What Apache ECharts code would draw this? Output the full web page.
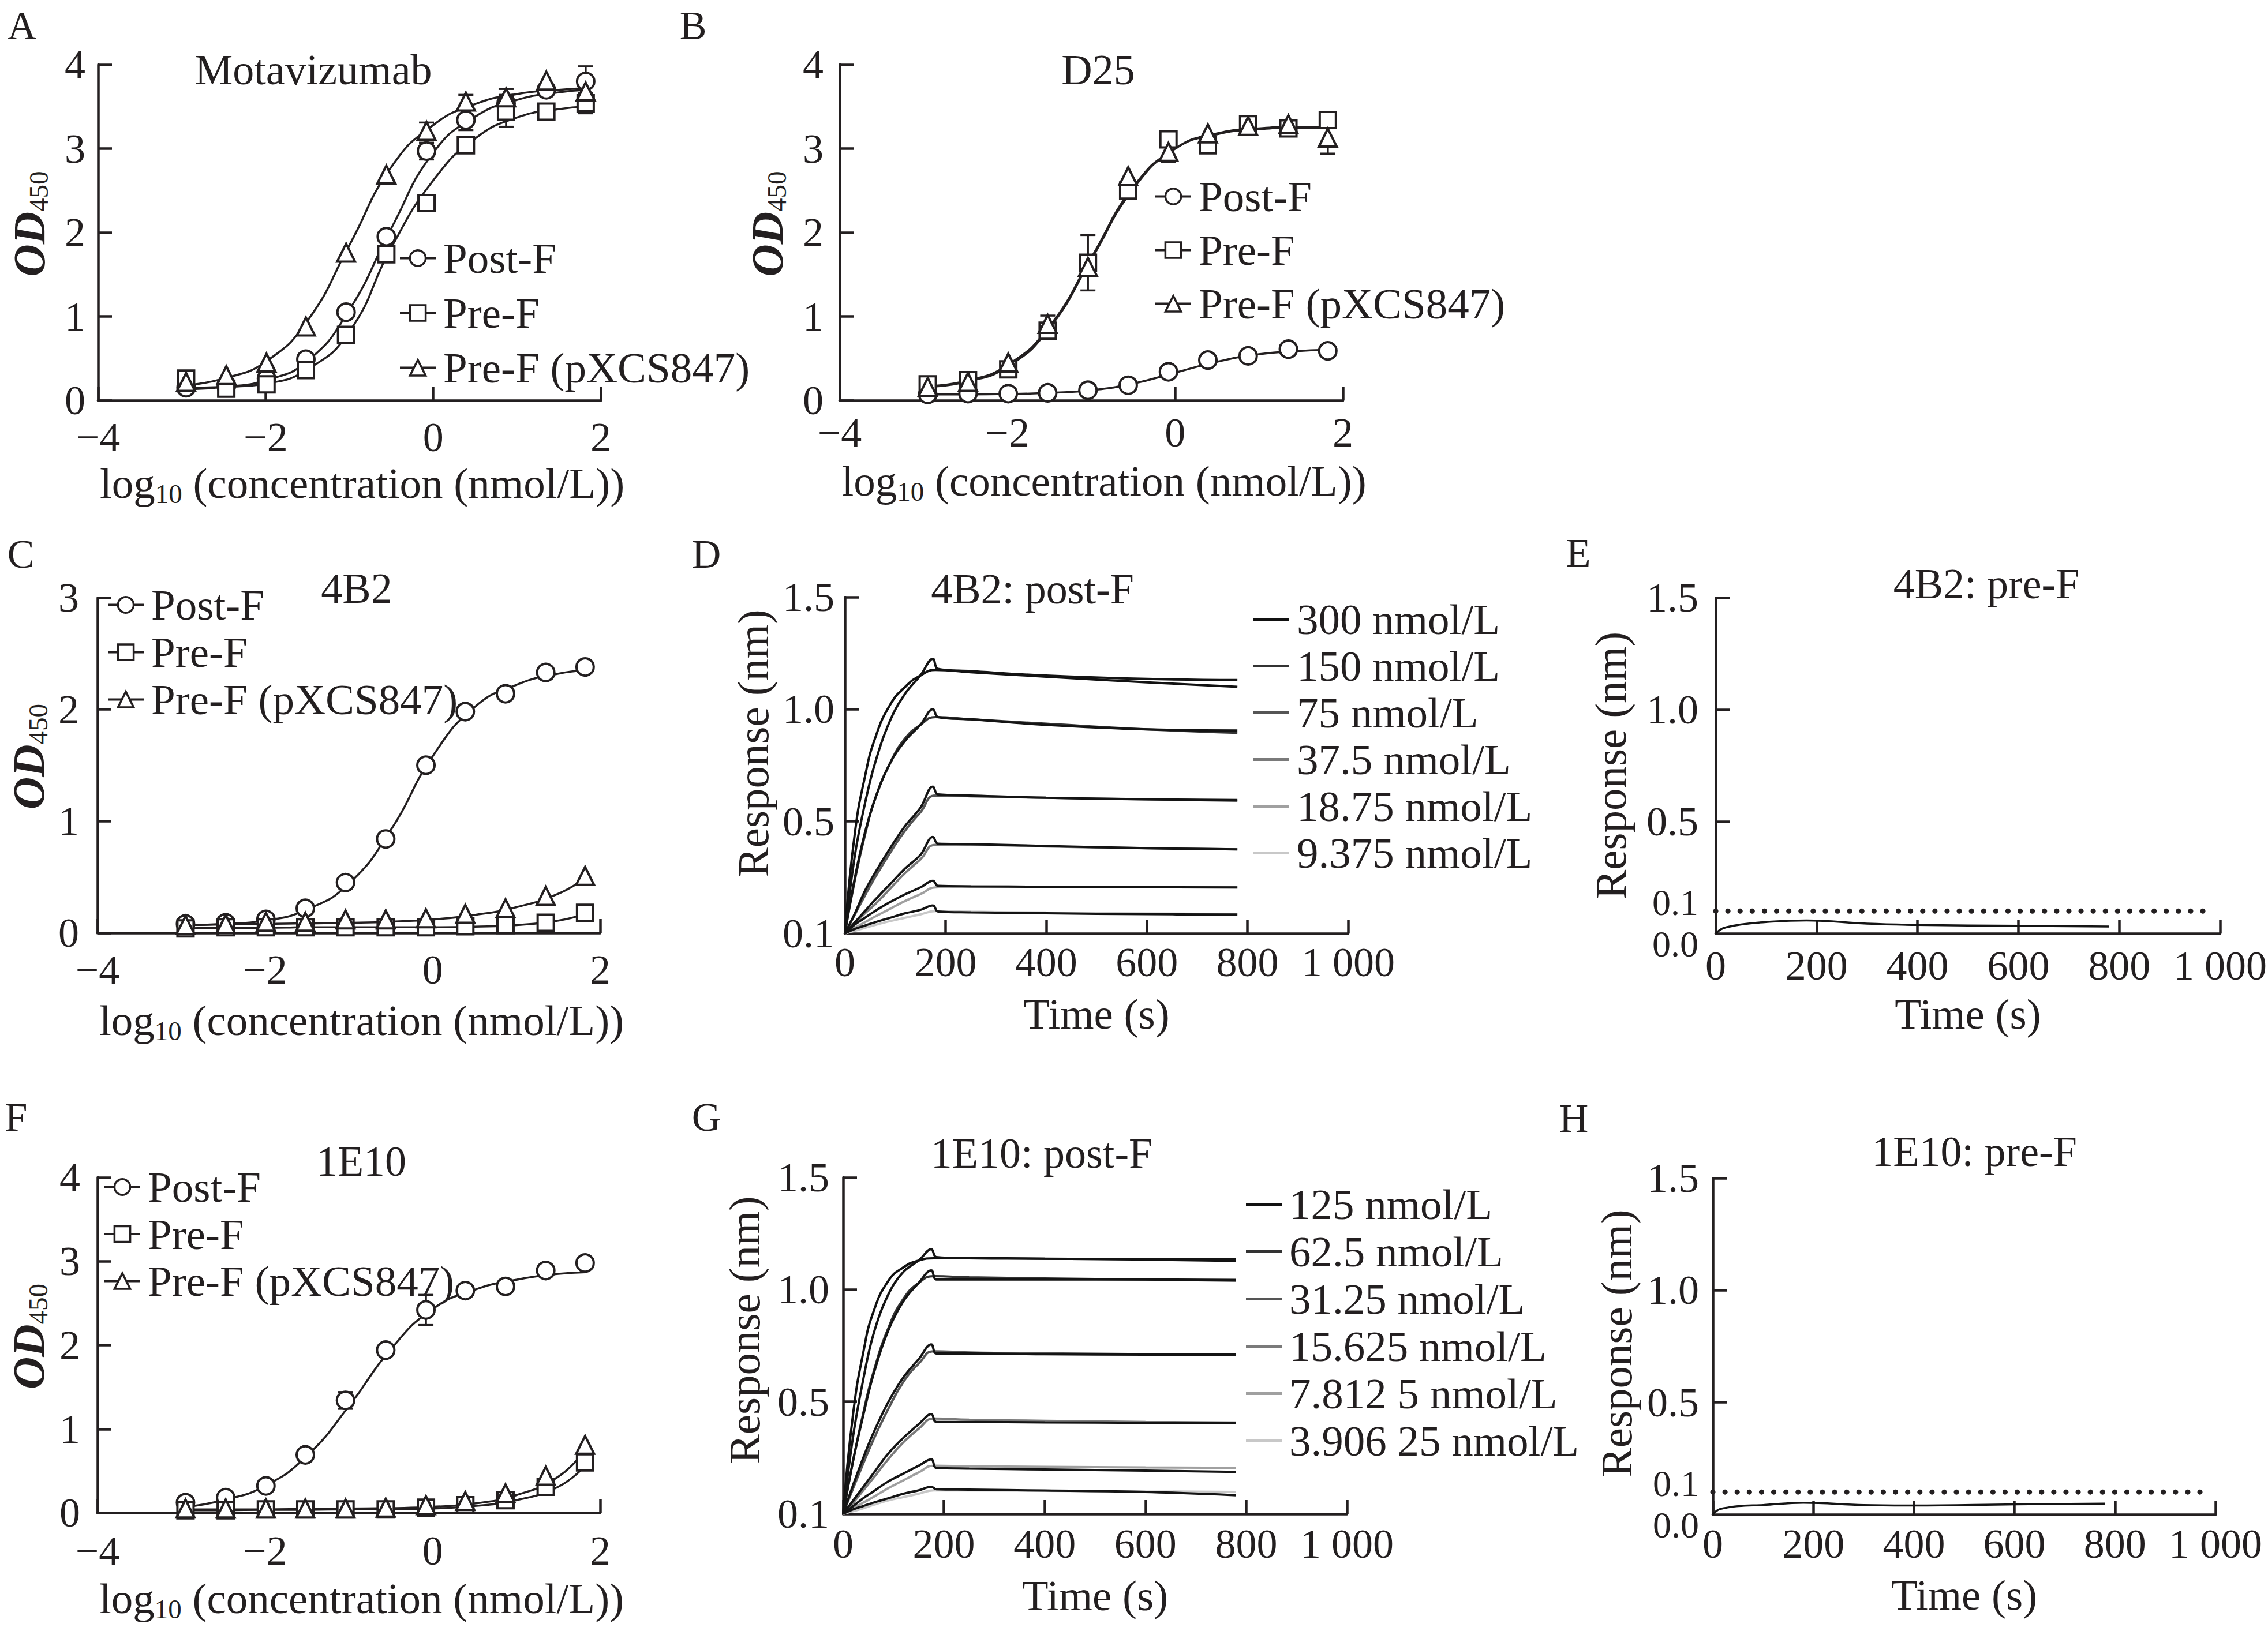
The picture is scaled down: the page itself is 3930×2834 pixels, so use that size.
<!DOCTYPE html>
<html lang="en">
<head>
<meta charset="utf-8">
<title>Antibody binding to RSV F proteins</title>
<script src="https://cdn.jsdelivr.net/npm/echarts@6.0.0/dist/echarts.min.js"></script>
<style>
  html, body { margin: 0; padding: 0; background: #ffffff; }
  #fig { width: 3930px; height: 2834px; }
</style>
</head>
<body>
<div id="fig"></div>
<script>
// ---------- ELISA data (x = log10 concentration, nmol/L) ----------
var logConc = [-2.95, -2.47, -1.99, -1.52, -1.04, -0.56, -0.08, 0.39, 0.87, 1.35, 1.82];
var fitX    = [-2.95, -2.5, -2.0, -1.5, -1.0, -0.5, 0.0, 0.5, 1.0, 1.5, 1.82];
var groupNames = ['Post-F', 'Pre-F', 'Pre-F (pXCS847)'];

// A: Motavizumab
var motaPost    = [0.15, 0.17, 0.26, 0.49, 1.05, 1.95, 2.97, 3.34, 3.54, 3.70, 3.80];
var motaPostSd  = [0, 0, 0, 0, 0, 0, 0.10, 0.12, 0.10, 0, 0.18];
var motaPostFit = [0.13, 0.16, 0.24, 0.47, 1.08, 2.05, 2.95, 3.38, 3.58, 3.67, 3.70];
var motaPre     = [0.26, 0.14, 0.19, 0.36, 0.78, 1.74, 2.35, 3.04, 3.44, 3.44, 3.54];
var motaPreSd   = [0, 0, 0.06, 0, 0, 0, 0, 0, 0.18, 0.05, 0.12];
var motaPreFit  = [0.15, 0.16, 0.20, 0.37, 0.82, 1.82, 2.62, 3.12, 3.37, 3.47, 3.50];
var motaPx      = [0.22, 0.30, 0.45, 0.88, 1.76, 2.69, 3.21, 3.56, 3.61, 3.81, 3.68];
var motaPxSd    = [0, 0, 0, 0, 0, 0, 0.10, 0.08, 0.10, 0, 0];
var motaPxFit   = [0.18, 0.26, 0.46, 0.95, 1.85, 2.78, 3.28, 3.53, 3.65, 3.70, 3.72];

// B: D25
var d25Post    = [0.07, 0.08, 0.08, 0.09, 0.12, 0.18, 0.34, 0.48, 0.53, 0.61, 0.59];
var d25PostSd  = [0, 0, 0, 0, 0, 0, 0, 0, 0, 0, 0];
var d25PostFit = [0.07, 0.07, 0.075, 0.09, 0.12, 0.20, 0.33, 0.46, 0.55, 0.59, 0.60];
var d25Pre     = [0.19, 0.24, 0.37, 0.83, 1.64, 2.50, 3.11, 3.04, 3.29, 3.24, 3.34];
var d25PreSd   = [0, 0, 0, 0.05, 0.33, 0, 0, 0.05, 0, 0.05, 0];
var d25PreFit  = [0.16, 0.22, 0.40, 0.86, 1.68, 2.52, 3.00, 3.18, 3.24, 3.26, 3.26];
var d25Px      = [0.16, 0.22, 0.45, 0.91, 1.59, 2.67, 2.96, 3.18, 3.27, 3.29, 3.13];
var d25PxSd    = [0, 0, 0, 0.10, 0, 0, 0.12, 0, 0, 0.03, 0.19];
var d25PxFit   = [0.17, 0.23, 0.42, 0.88, 1.70, 2.54, 3.00, 3.17, 3.23, 3.25, 3.25];

// C: 4B2
var c4b2Post    = [0.08, 0.09, 0.12, 0.22, 0.45, 0.84, 1.50, 1.98, 2.14, 2.33, 2.38];
var c4b2PostFit = [0.07, 0.08, 0.11, 0.21, 0.44, 0.92, 1.58, 2.02, 2.22, 2.32, 2.35];
var c4b2Pre     = [0.04, 0.05, 0.05, 0.05, 0.05, 0.05, 0.05, 0.06, 0.07, 0.09, 0.18];
var c4b2PreFit  = [0.04, 0.045, 0.045, 0.05, 0.05, 0.05, 0.05, 0.055, 0.07, 0.11, 0.17];
var c4b2Px      = [0.07, 0.08, 0.10, 0.10, 0.12, 0.12, 0.13, 0.17, 0.22, 0.33, 0.51];
var c4b2PxFit   = [0.07, 0.075, 0.08, 0.085, 0.09, 0.10, 0.12, 0.16, 0.23, 0.35, 0.49];
var noSd        = [0, 0, 0, 0, 0, 0, 0, 0, 0, 0, 0];

// F: 1E10
var f1e10Post    = [0.12, 0.18, 0.32, 0.69, 1.34, 1.94, 2.42, 2.65, 2.70, 2.89, 2.98];
var f1e10PostSd  = [0, 0, 0, 0, 0.10, 0, 0.18, 0, 0, 0, 0];
var f1e10PostFit = [0.07, 0.15, 0.32, 0.68, 1.27, 1.95, 2.43, 2.66, 2.78, 2.85, 2.87];
var f1e10Pre     = [0.03, 0.03, 0.04, 0.04, 0.04, 0.04, 0.06, 0.09, 0.15, 0.31, 0.60];
var f1e10PreFit  = [0.03, 0.03, 0.035, 0.035, 0.04, 0.04, 0.05, 0.08, 0.15, 0.31, 0.56];
var f1e10Px      = [0.05, 0.05, 0.05, 0.05, 0.05, 0.06, 0.09, 0.14, 0.23, 0.44, 0.81];
var f1e10PxFit   = [0.04, 0.04, 0.04, 0.045, 0.05, 0.055, 0.07, 0.11, 0.21, 0.43, 0.75];

// ---------- BLI kinetics (time in s, response in nm) ----------
var rawTime = [0, 20, 40, 60, 90, 120, 150, 175, 185, 250, 400, 600, 780];
var fitTime = [0, 20, 40, 60, 90, 120, 150, 180, 250, 400, 600, 780];

// D: 4B2 vs post-F
var dConc = ['300 nmol/L', '150 nmol/L', '75 nmol/L', '37.5 nmol/L', '18.75 nmol/L', '9.375 nmol/L'];
var d300Raw = [0, 0.35, 0.58, 0.76, 0.95, 1.07, 1.15, 1.225, 1.18, 1.17, 1.15, 1.135, 1.13];
var d300Fit = [0, 0.45, 0.70, 0.87, 1.02, 1.10, 1.15, 1.175, 1.165, 1.145, 1.12, 1.10];
var d150Raw = [0, 0.25, 0.45, 0.60, 0.76, 0.86, 0.93, 1.00, 0.965, 0.955, 0.93, 0.91, 0.905];
var d150Fit = [0, 0.24, 0.44, 0.60, 0.76, 0.87, 0.93, 0.965, 0.955, 0.935, 0.91, 0.895];
var d75Raw  = [0, 0.09, 0.19, 0.27, 0.38, 0.48, 0.56, 0.655, 0.62, 0.615, 0.605, 0.598, 0.595];
var d75Fit  = [0, 0.085, 0.17, 0.25, 0.36, 0.46, 0.54, 0.615, 0.612, 0.605, 0.598, 0.592];
var d37Raw  = [0, 0.05, 0.10, 0.15, 0.22, 0.29, 0.35, 0.43, 0.40, 0.398, 0.39, 0.38, 0.375];
var d37Fit  = [0, 0.045, 0.09, 0.13, 0.20, 0.27, 0.33, 0.395, 0.395, 0.388, 0.38, 0.375];
var d18Raw  = [0, 0.04, 0.07, 0.10, 0.14, 0.175, 0.205, 0.235, 0.212, 0.21, 0.208, 0.206, 0.205];
var d18Fit  = [0, 0.025, 0.05, 0.075, 0.11, 0.145, 0.175, 0.205, 0.21, 0.208, 0.206, 0.205];
var d9Raw   = [0, 0.02, 0.035, 0.05, 0.07, 0.09, 0.105, 0.125, 0.098, 0.094, 0.09, 0.086, 0.084];
var d9Fit   = [0, 0.012, 0.025, 0.038, 0.055, 0.07, 0.085, 0.10, 0.097, 0.093, 0.089, 0.086];

// G: 1E10 vs post-F
var gConc = ['125 nmol/L', '62.5 nmol/L', '31.25 nmol/L', '15.625 nmol/L', '7.812 5 nmol/L', '3.906 25 nmol/L'];
var g125Raw = [0, 0.35, 0.60, 0.80, 0.98, 1.08, 1.13, 1.18, 1.145, 1.14, 1.138, 1.136, 1.135];
var g125Fit = [0, 0.45, 0.72, 0.90, 1.04, 1.10, 1.13, 1.14, 1.14, 1.138, 1.134, 1.128];
var g62Raw  = [0, 0.24, 0.44, 0.62, 0.82, 0.95, 1.03, 1.086, 1.045, 1.045, 1.045, 1.045, 1.043];
var g62Fit  = [0, 0.24, 0.45, 0.63, 0.83, 0.96, 1.03, 1.06, 1.055, 1.05, 1.045, 1.04];
var g31Raw  = [0, 0.13, 0.25, 0.36, 0.50, 0.61, 0.69, 0.756, 0.715, 0.715, 0.712, 0.71, 0.71];
var g31Fit  = [0, 0.115, 0.225, 0.33, 0.47, 0.59, 0.67, 0.725, 0.72, 0.716, 0.712, 0.71];
var g15Raw  = [0, 0.06, 0.12, 0.18, 0.27, 0.34, 0.40, 0.445, 0.41, 0.41, 0.408, 0.406, 0.405];
var g15Fit  = [0, 0.05, 0.105, 0.16, 0.245, 0.32, 0.38, 0.425, 0.42, 0.415, 0.41, 0.407];
var g7Raw   = [0, 0.035, 0.07, 0.10, 0.145, 0.18, 0.215, 0.243, 0.205, 0.202, 0.198, 0.193, 0.187];
var g7Fit   = [0, 0.025, 0.05, 0.075, 0.115, 0.15, 0.185, 0.215, 0.212, 0.21, 0.207, 0.205];
var g3Raw   = [0, 0.02, 0.035, 0.05, 0.07, 0.09, 0.105, 0.12, 0.11, 0.108, 0.104, 0.098, 0.083];
var g3Fit   = [0, 0.012, 0.025, 0.04, 0.06, 0.075, 0.09, 0.105, 0.105, 0.103, 0.10, 0.098];

// E / H: binding to pre-F (below the 0.1 nm cut-off)
var preTime  = [0, 10, 20, 50, 100, 180, 300, 400, 600, 780];
var e4b2Pre  = [0, 0.018, 0.027, 0.040, 0.051, 0.058, 0.044, 0.038, 0.034, 0.031];
var h1e10Pre = [0, 0.020, 0.027, 0.037, 0.042, 0.052, 0.042, 0.040, 0.045, 0.048];
var cutoff = 0.1;
var cutoffTime = [0, 980];

// tick labels
var kinYTicks  = [0, 0.5, 1.0, 1.5];
var kinYLabels = ['0.1', '0.5', '1.0', '1.5'];
var preYTicks  = [0, 0.5, 1.0, 1.5];
var preYLabels = ['0.0', '0.5', '1.0', '1.5'];
var cutoffLabel = '0.1';

var titles = ['Motavizumab', 'D25', '4B2', '4B2: post-F', '4B2: pre-F', '1E10', '1E10: post-F', '1E10: pre-F'];
var letters = ['A', 'B', 'C', 'D', 'E', 'F', 'G', 'H'];

// ---------- styling / layout ----------
var ink = '#231f20';
var serif = '"Liberation Serif", "Times New Roman", Times, serif';
var fitGreys = ['#111111', '#333333', '#555555', '#7a7a7a', '#a0a0a0', '#c8c8c8'];
var markerShape = ['circle', 'rect', 'triangle'];
var markerSize = [30, 28, 31];

var titlePos  = [[543, 121], [1903, 121], [618, 1020], [1789, 1021], [3442, 1012], [626, 2013], [1805, 1999], [3421, 1996]];
var letterPos = [[38, 44], [1201, 44], [36, 960], [1224, 960], [2735, 958], [28, 1936], [1224, 1936], [2727, 1938]];

var elisaLayout = [
  {grid: [170, 112, 871, 582], yMax: 4, legend: [691, 410, 20], xGap: 106, yGap: 85, xMargin: 28, yMargin: 22},
  {grid: [1455, 112, 872, 582], yMax: 4, legend: [2000, 303, 18], xGap: 102, yGap: 91, xMargin: 20, yMargin: 28},
  {grid: [169, 1036, 871, 581], yMax: 3, legend: [185, 1011, 7], xGap: 114, yGap: 85, xMargin: 28, yMargin: 32},
  {grid: [169, 2041, 871, 581], yMax: 4, legend: [179, 2020, 6.5], xGap: 111, yGap: 85, xMargin: 30, yMargin: 30}
];
var elisaData = [
  [[motaPost, motaPostSd, motaPostFit], [motaPre, motaPreSd, motaPreFit], [motaPx, motaPxSd, motaPxFit]],
  [[d25Post, d25PostSd, d25PostFit], [d25Pre, d25PreSd, d25PreFit], [d25Px, d25PxSd, d25PxFit]],
  [[c4b2Post, noSd, c4b2PostFit], [c4b2Pre, noSd, c4b2PreFit], [c4b2Px, noSd, c4b2PxFit]],
  [[f1e10Post, f1e10PostSd, f1e10PostFit], [f1e10Pre, noSd, f1e10PreFit], [f1e10Px, noSd, f1e10PxFit]]
];

var kinLayout = [
  {grid: [1464, 1035, 872, 583], legend: [2172, 1036, 6], xGap: 98, yGap: 118, yShift: 76, xMargin: 14, yMargin: 18},
  {grid: [1461, 2041, 873, 583], legend: [2159, 2050, 7], xGap: 100, yGap: 130, yShift: 54, xMargin: 16, yMargin: 24}
];
var kinNames = [dConc, gConc];
var kinRaw = [[d300Raw, d150Raw, d75Raw, d37Raw, d18Raw, d9Raw], [g125Raw, g62Raw, g31Raw, g15Raw, g7Raw, g3Raw]];
var kinFit = [[d300Fit, d150Fit, d75Fit, d37Fit, d18Fit, d9Fit], [g125Fit, g62Fit, g31Fit, g15Fit, g7Fit, g3Fit]];

var preLayout = [
  {grid: [2973, 1036, 874, 582], xGap: 98, yGap: 141, yShift: 0, xMargin: 20, yMargin: 30},
  {grid: [2968, 2042, 871, 583], xGap: 98, yGap: 126, yShift: 10, xMargin: 15, yMargin: 24}
];
var preData = [e4b2Pre, h1e10Pre];

// ---------- helpers ----------
function pairs(xs, ys) {
  return xs.map(function (x, k) { return [x, ys[k]]; });
}

function errData(xs, ys, sd) {
  var out = [];
  for (var k = 0; k < xs.length; k++) {
    if (sd[k] > 0) out.push([xs[k], ys[k], sd[k]]);
  }
  return out;
}

function renderErr(params, api) {
  var x = api.value(0), y = api.value(1), e = api.value(2);
  var hi = api.coord([x, y + e]);
  var lo = api.coord([x, y - e]);
  var w = 13;
  var st = {stroke: ink, lineWidth: 3.5};
  return {
    type: 'group',
    children: [
      {type: 'line', shape: {x1: hi[0], y1: hi[1], x2: lo[0], y2: lo[1]}, style: st},
      {type: 'line', shape: {x1: hi[0] - w, y1: hi[1], x2: hi[0] + w, y2: hi[1]}, style: st},
      {type: 'line', shape: {x1: lo[0] - w, y1: lo[1], x2: lo[0] + w, y2: lo[1]}, style: st}
    ]
  };
}

function minusFmt(v) {
  return v < 0 ? '\u2212' + Math.abs(v) : String(v);
}

function timeFmt(v) {
  return v === 1000 ? '1 000' : String(v);
}

function baseAxis(gi) {
  return {
    gridIndex: gi,
    type: 'value',
    splitLine: {show: false},
    axisLine: {show: true, onZero: false, lineStyle: {color: ink, width: 4.5}},
    axisTick: {show: true, inside: true, length: 24, lineStyle: {color: ink, width: 4.5}},
    nameLocation: 'middle',
    nameMoveOverlap: false,
    nameTextStyle: {color: ink, fontFamily: serif, fontSize: 75, lineHeight: 82}
  };
}

function label(margin, extra) {
  return Object.assign({show: true, showMinLabel: true, showMaxLabel: true, color: ink,
    fontFamily: serif, fontSize: 72, margin: margin}, extra || {});
}

var grids = [], xAxes = [], yAxes = [], extraY = [], series = [], legends = [];

function addGrid(g) {
  grids.push({left: g[0], top: g[1], width: g[2], height: g[3], containLabel: false, outerBoundsMode: 'none'});
  return grids.length - 1;
}

var subRich = {
  m: {fontFamily: serif, fontSize: 75, color: ink, verticalAlign: 'top', lineHeight: 82},
  od: {fontFamily: serif, fontSize: 78, fontStyle: 'italic', fontWeight: 'bold', color: ink, verticalAlign: 'top', lineHeight: 74},
  s: {fontFamily: serif, fontSize: 47, color: ink, verticalAlign: 'top', lineHeight: 42, padding: [32, 0, 0, 0]}
};

var legendText = {color: ink, fontFamily: serif, fontSize: 75, lineHeight: 72, padding: [0, 0, 0, 8]};

// ---------- ELISA panels (A, B, C, F) ----------
elisaLayout.forEach(function (L, p) {
  var gi = addGrid(L.grid);
  var xa = baseAxis(gi);
  xa.min = -4; xa.max = 2; xa.interval = 2;
  xa.axisLabel = label(L.xMargin, {formatter: minusFmt});
  xa.name = '{m|log}{s|10}{m| (concentration (nmol/L))}';
  xa.nameGap = L.xGap;
  xa.nameTextStyle = Object.assign({}, xa.nameTextStyle, {rich: subRich, padding: [0, 0, 0, 44]});
  xAxes.push(xa);

  var ya = baseAxis(gi);
  ya.min = 0; ya.max = L.yMax; ya.interval = 1;
  ya.axisLabel = label(L.yMargin);
  ya.name = '{od|OD}{s|450}';
  ya.nameRotate = 90;
  ya.nameGap = L.yGap;
  ya.nameTextStyle = Object.assign({}, ya.nameTextStyle, {rich: subRich, lineHeight: 74, padding: [0, 0, 0, 30]});
  yAxes.push(ya);

  var groups = elisaData[p];
  // fitted curves first, so each legend takes its line + marker icon from them
  groups.forEach(function (g, k) {
    series.push({
      type: 'line', name: groupNames[k], xAxisIndex: gi, yAxisIndex: gi,
      data: pairs(fitX, g[2]), smooth: 0.5,
      symbol: markerShape[k], symbolSize: 28, showSymbol: false,
      lineStyle: {color: ink, width: 3.5}, itemStyle: {color: ink},
      z: 2, silent: true
    });
  });
  groups.forEach(function (g, k) {
    var ed = errData(logConc, g[0], g[1]);
    if (!ed.length) return;
    series.push({
      type: 'custom', name: groupNames[k], xAxisIndex: gi, yAxisIndex: gi,
      data: ed, encode: {x: 0, y: 1}, renderItem: renderErr, z: 3, silent: true
    });
  });
  groups.forEach(function (g, k) {
    series.push({
      type: 'scatter', name: groupNames[k], xAxisIndex: gi, yAxisIndex: gi,
      data: pairs(logConc, g[0]), symbol: markerShape[k], symbolSize: markerSize[k],
      itemStyle: {color: '#ffffff', borderColor: ink, borderWidth: 4, opacity: 1},
      z: 4, silent: true
    });
  });

  legends.push({
    orient: 'vertical', left: L.legend[0], top: L.legend[1], itemGap: L.legend[2],
    padding: 0, itemWidth: 62, itemHeight: 34, selectedMode: false,
    data: groupNames.slice(),
    itemStyle: {color: '#ffffff', borderColor: ink, borderWidth: 3.5},
    lineStyle: {color: ink, width: 4},
    textStyle: legendText
  });
});

// ---------- kinetics vs post-F (D, G) ----------
kinLayout.forEach(function (L, p) {
  var gi = addGrid(L.grid);
  var xa = baseAxis(gi);
  xa.min = 0; xa.max = 1000; xa.interval = 200;
  xa.axisLabel = label(L.xMargin, {formatter: timeFmt});
  xa.name = 'Time (s)';
  xa.nameGap = L.xGap;
  xAxes.push(xa);

  var ya = baseAxis(gi);
  ya.min = 0; ya.max = 1.5;
  ya.axisTick = Object.assign({}, ya.axisTick, {customValues: kinYTicks.slice(1)});
  ya.axisLabel = label(L.yMargin, {
    customValues: kinYTicks,
    formatter: function (v) { return kinYLabels[kinYTicks.indexOf(v)]; }
  });
  ya.name = 'Response (nm)';
  ya.nameRotate = 90;
  ya.nameGap = L.yGap;
  ya.nameTextStyle = Object.assign({}, ya.nameTextStyle, {fontSize: 77, padding: [0, 0, 0, L.yShift]});
  yAxes.push(ya);

  var names = kinNames[p];
  kinFit[p].forEach(function (vals, k) {
    series.push({
      type: 'line', name: names[k], xAxisIndex: gi, yAxisIndex: gi,
      data: pairs(fitTime, vals), smooth: 0.5, symbol: 'none',
      lineStyle: {color: fitGreys[k], width: 4}, itemStyle: {color: fitGreys[k]},
      z: 2, silent: true
    });
  });
  kinRaw[p].forEach(function (vals, k) {
    series.push({
      type: 'line', name: names[k], xAxisIndex: gi, yAxisIndex: gi,
      data: pairs(rawTime, vals), smooth: 0.4, symbol: 'none',
      lineStyle: {color: '#141414', width: 4}, itemStyle: {color: '#141414'},
      z: 3, silent: true
    });
  });

  legends.push({
    orient: 'vertical', left: L.legend[0], top: L.legend[1], itemGap: L.legend[2],
    padding: 0, itemWidth: 62, itemHeight: 5, icon: 'rect', selectedMode: false,
    data: names.slice(),
    textStyle: legendText
  });
});

// ---------- binding to pre-F (E, H) ----------
preLayout.forEach(function (L, p) {
  var gi = addGrid(L.grid);
  var xa = baseAxis(gi);
  xa.min = 0; xa.max = 1000; xa.interval = 200;
  xa.axisLabel = label(L.xMargin, {formatter: timeFmt});
  xa.name = 'Time (s)';
  xa.nameGap = L.xGap;
  xAxes.push(xa);

  var ya = baseAxis(gi);
  ya.min = 0; ya.max = 1.5;
  ya.axisTick = Object.assign({}, ya.axisTick, {customValues: preYTicks.slice(1)});
  ya.axisLabel = label(L.yMargin, {
    customValues: preYTicks,
    formatter: function (v) {
      var t = preYLabels[preYTicks.indexOf(v)];
      return v === 0 ? '{lo|' + t + '}' : t;
    },
    rich: {lo: {fontFamily: serif, fontSize: 64, color: ink, lineHeight: 20, padding: [36, 0, 0, 0]}}
  });
  ya.name = 'Response (nm)';
  ya.nameRotate = 90;
  ya.nameGap = L.yGap;
  ya.nameTextStyle = Object.assign({}, ya.nameTextStyle, {fontSize: 77, padding: [0, 0, 0, L.yShift]});
  yAxes.push(ya);

  // label-only axis on the same grid, for the 0.1 nm cut-off value
  extraY.push({
    gridIndex: gi, type: 'value', min: 0, max: 1.5, position: 'left',
    axisLine: {show: false}, axisTick: {show: false}, splitLine: {show: false},
    axisLabel: label(L.yMargin, {
      customValues: [cutoff],
      formatter: function () { return '{hi|' + cutoffLabel + '}'; },
      rich: {hi: {fontFamily: serif, fontSize: 64, color: ink, lineHeight: 20, padding: [0, 0, 30, 0]}}
    })
  });

  series.push({
    type: 'line', name: 'cut-off', xAxisIndex: gi, yAxisIndex: gi,
    data: cutoffTime.map(function (t) { return [t, cutoff]; }), symbol: 'none',
    lineStyle: {color: ink, width: 9, type: [0.1, 21], cap: 'round'},
    z: 2, silent: true
  });
  series.push({
    type: 'line', name: 'pre-F', xAxisIndex: gi, yAxisIndex: gi,
    data: pairs(preTime, preData[p]), smooth: 0.4, symbol: 'none',
    lineStyle: {color: '#141414', width: 3.5},
    z: 3, silent: true
  });
});

// ---------- titles and panel letters ----------
var graphics = [];
titles.forEach(function (t, k) {
  graphics.push({
    type: 'text', x: titlePos[k][0], y: titlePos[k][1], silent: true,
    style: {text: t, fill: ink, fontFamily: serif, fontSize: 74, textAlign: 'center', textVerticalAlign: 'middle'}
  });
});
letters.forEach(function (t, k) {
  graphics.push({
    type: 'text', x: letterPos[k][0], y: letterPos[k][1], silent: true,
    style: {text: t, fill: ink, fontFamily: serif, fontSize: 70, textAlign: 'center', textVerticalAlign: 'middle'}
  });
});

var chart = echarts.init(document.getElementById('fig'), null, {renderer: 'svg', width: 3930, height: 2834});
chart.setOption({
  backgroundColor: '#ffffff',
  animation: false,
  textStyle: {fontFamily: serif, color: ink},
  grid: grids,
  xAxis: xAxes,
  yAxis: yAxes.concat(extraY),
  legend: legends,
  series: series,
  graphic: graphics
});
</script>
</body>
</html>
